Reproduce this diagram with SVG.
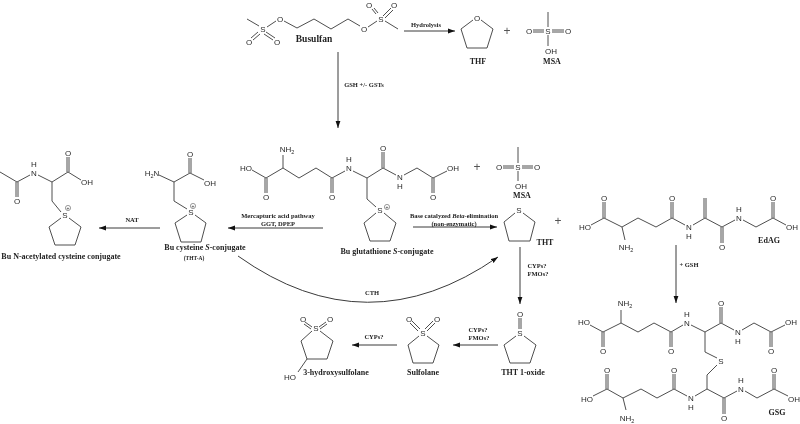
<svg xmlns="http://www.w3.org/2000/svg" width="800" height="424" viewBox="0 0 800 424">
<style>
.b{fill:none;stroke:#3a3a3a;stroke-width:.9}
.c{fill:none;stroke:#3a3a3a;stroke-width:1;marker-end:url(#ah)}
.a{font:8px "Liberation Sans",Arial,sans-serif;fill:#2a2a2a;text-anchor:middle}
.l{font:bold 6.5px "Liberation Serif","Times New Roman",serif;fill:#222;text-anchor:middle}
.s{font-size:5.5px}
.m{font-size:8px}
.k{font-size:9.5px}
.p{font:12px "Liberation Sans",Arial,sans-serif;fill:#555;text-anchor:middle}
.ch{fill:none;stroke:#3a3a3a;stroke-width:.5}
</style>
<defs>
<marker id="ah" markerUnits="userSpaceOnUse" markerWidth="8" markerHeight="6" refX="7" refY="3" orient="auto"><path d="M0,.6L7,3L0,5.4Z" fill="#111"/></marker>
<filter id="soft" filterUnits="userSpaceOnUse" x="0" y="0" width="800" height="424" color-interpolation-filters="sRGB"><feGaussianBlur stdDeviation=".3"/></filter>
</defs>
<rect width="800" height="424" fill="#fff"/>
<g filter="url(#soft)">
<g id="connectors">
<path class="c" d="M404,31H455"/>
<path class="c" d="M338,52V128"/>
<path class="c" d="M160,228H99"/>
<path class="c" d="M323,228H228"/>
<path class="c" d="M413,227H497"/>
<path class="c" d="M520,247V304"/>
<path class="c" d="M238,256Q367,348 498,257"/>
<path class="c" d="M397,345H352"/>
<path class="c" d="M498,345H453"/>
<path class="c" d="M676,245V303"/>
<text class="l" x="426" y="27">Hydrolysis</text>
<text class="l" x="364" y="87">GSH +/- GSTs</text>
<text class="l" x="132" y="222">NAT</text>
<text class="l" x="278" y="218">Mercapturic acid pathway</text>
<text class="l" x="278" y="226">GGT, DPEP</text>
<text class="l" x="454" y="218">Base catalyzed <tspan font-style="italic">Beta</tspan>-elimination</text>
<text class="l" x="454" y="226">(non-enzymatic)</text>
<text class="l" x="537" y="268">CYPs?</text>
<text class="l" x="538" y="276">FMOs?</text>
<text class="l" x="372" y="295">CTH</text>
<text class="l" x="374" y="339">CYPs?</text>
<text class="l" x="478" y="332">CYPs?</text>
<text class="l" x="479" y="340">FMOs?</text>
<text class="l" x="689" y="267">+ GSH</text>
</g>

<g id="busulfan">
<path class="b" d="M247,19L259,26M267,27L276,21M284,21L297,28L314,19L331,29L348,19L360,26M368,27L377,21M385,21L398,29M258,32L251,38M260,34L253,40M266,32L275,38M264,34L273,40M376,14L372,9M378,13L374,8M383,16L391,8M385,18L393,10"/>
<text class="a" x="263" y="32">S</text><text class="a" x="280" y="22">O</text><text class="a" x="364" y="32">O</text><text class="a" x="381" y="22">S</text>
<text class="a" x="369" y="8">O</text><text class="a" x="394" y="8">O</text><text class="a" x="249" y="45">O</text><text class="a" x="277" y="45">O</text>
<text class="l k" x="314" y="42">Busulfan</text>
</g>

<g id="thf">
<path class="b" d="M473,20L461,29L467,48H487L493,29L481,20"/>
<text class="a" x="477" y="21">O</text>
<text class="l m" x="478" y="64">THF</text>
</g>
<text class="p" x="507" y="35">+</text>
<g id="msa-1">
<path class="b" d="M548,12V27M548,35V46M533,30H544M533,32H544M552,30H564M552,32H564"/>
<text class="a" x="548" y="34">S</text><text class="a" x="529" y="34">O</text><text class="a" x="568" y="34">O</text><text class="a" x="551" y="54">OH</text>
<text class="l m" x="552" y="64">MSA</text>
</g>

<g id="acetyl-conjugate">
<path class="b" d="M0,172L17,182L30,175M38,175L52,182L68,172L81,180M52,182V201L61,212M69,218L81,227L75,245H55L49,227L61,218M16,182V197M18,182V197M67,172V157M69,172V157"/>
<text class="a" x="34" y="176">N</text><text class="a" x="34" y="167">H</text><text class="a" x="17" y="204">O</text><text class="a" x="68" y="156">O</text><text class="a" x="87" y="185">OH</text><text class="a" x="65" y="218">S</text>
<circle class="ch" cx="68" cy="208" r="2.6"/><text class="a" style="font-size:5px" x="68" y="210">+</text>
<text class="l m" x="61" y="259">Bu N-acetylated cysteine conjugate</text>
</g>

<g id="cysteine-conjugate">
<path class="b" d="M159,175L174,182L190,173L204,180M174,182V201L187,209M195,215L206,223L201,242H181L175,223L187,215M189,173V158M191,173V158"/>
<text class="a" x="152" y="176">H<tspan class="s" dy="1.5">2</tspan><tspan dy="-1.5">N</tspan></text><text class="a" x="190" y="157">O</text><text class="a" x="210" y="186">OH</text><text class="a" x="191" y="215">S</text>
<circle class="ch" cx="193" cy="206" r="2.6"/><text class="a" style="font-size:5px" x="193" y="208">+</text>
<text class="l m" x="205" y="250">Bu cysteine <tspan font-style="italic">S</tspan>-conjugate</text>
<text class="l" style="font-size:5.5px" x="194" y="260">(THT-A)</text>
</g>

<g id="glutathione-conjugate">
<path class="b" d="M252,170L266,178L283,168L299,178L316,168L332,178L345,171M353,171L367,178L383,168L396,175M404,175L417,168L433,178L447,171M283,168V155M367,178V199L376,207M384,213L396,223L390,241H370L364,223L376,213M265,178V193M267,178V193M331,178V193M333,178V193M382,168V152M384,168V152M432,178V193M434,178V193"/>
<text class="a" x="246" y="171">HO</text><text class="a" x="266" y="200">O</text><text class="a" x="287" y="152">NH<tspan class="s" dy="1.5">2</tspan></text><text class="a" x="332" y="200">O</text><text class="a" x="349" y="171">N</text><text class="a" x="349" y="162">H</text><text class="a" x="383" y="151">O</text><text class="a" x="400" y="180">N</text><text class="a" x="400" y="189">H</text><text class="a" x="433" y="200">O</text><text class="a" x="453" y="171">OH</text><text class="a" x="380" y="213">S</text>
<circle class="ch" cx="387" cy="207" r="2.6"/><text class="a" style="font-size:5px" x="387" y="209">+</text>
<text class="l m" x="387" y="254">Bu glutathione <tspan font-style="italic">S</tspan>-conjugate</text>
</g>

<text class="p" x="477" y="171">+</text>
<g id="msa-2">
<path class="b" d="M518,147V163M518,171V181M503,166H514M503,168H514M522,166H533M522,168H533"/>
<text class="a" x="518" y="170">S</text><text class="a" x="499" y="170">O</text><text class="a" x="537" y="170">O</text><text class="a" x="521" y="189">OH</text>
<text class="l m" x="522" y="198">MSA</text>
</g>

<g id="tht">
<path class="b" d="M515,213L504,222L509,241H530L535,222L523,213"/>
<text class="a" x="519" y="213">S</text>
<text class="l m" x="545" y="245">THT</text>
</g>
<text class="p" x="558" y="225">+</text>

<g id="edag">
<path class="b" d="M591,225L604,218L622,227L638,218L656,227L672,218L685,225M693,225L705,218L722,227L735,220M743,220L756,227L773,218L786,225M622,227L625,240M603,218V202M605,218V202M671,218V202M673,218V202M704,218V198M706,218V198M721,227V243M723,227V243M772,218V202M774,218V202"/>
<text class="a" x="585" y="230">HO</text><text class="a" x="604" y="201">O</text><text class="a" x="626" y="250">NH<tspan class="s" dy="1.5">2</tspan></text><text class="a" x="672" y="201">O</text><text class="a" x="689" y="230">N</text><text class="a" x="689" y="239">H</text><text class="a" x="722" y="250">O</text><text class="a" x="739" y="221">N</text><text class="a" x="739" y="212">H</text><text class="a" x="773" y="201">O</text><text class="a" x="792" y="230">OH</text>
<text class="l m" x="769" y="243">EdAG</text>
</g>

<g id="gsg">
<path class="b" d="M590,325L603,332L621,323L638,332L654,323L671,332L683,325M691,325L705,332L721,323L734,330M742,330L754,323L771,332L785,325M621,323V310M705,332V352L717,358M717,365L707,375V389L724,398L737,391M745,391L757,398L774,389L788,396M707,389L695,396M687,396L674,389L657,398L641,389L623,398L607,389L593,396M623,398L626,410M602,332V347M604,332V347M670,332V347M672,332V347M720,323V307M722,323V307M770,332V347M772,332V347M606,389V374M608,389V374M673,389V374M675,389V374M723,398V414M725,398V414M773,389V374M775,389V374"/>
<text class="a" x="584" y="325">HO</text><text class="a" x="603" y="354">O</text><text class="a" x="625" y="306">NH<tspan class="s" dy="1.5">2</tspan></text><text class="a" x="671" y="354">O</text><text class="a" x="687" y="326">N</text><text class="a" x="687" y="317">H</text><text class="a" x="721" y="306">O</text><text class="a" x="738" y="335">N</text><text class="a" x="738" y="344">H</text><text class="a" x="771" y="354">O</text><text class="a" x="791" y="325">OH</text><text class="a" x="721" y="364">S</text>
<text class="a" x="587" y="402">HO</text><text class="a" x="607" y="373">O</text><text class="a" x="627" y="421">NH<tspan class="s" dy="1.5">2</tspan></text><text class="a" x="674" y="373">O</text><text class="a" x="691" y="401">N</text><text class="a" x="691" y="410">H</text><text class="a" x="724" y="421">O</text><text class="a" x="741" y="392">N</text><text class="a" x="741" y="383">H</text><text class="a" x="774" y="373">O</text><text class="a" x="794" y="402">OH</text>
<text class="l m" x="777" y="415">GSG</text>
</g>

<g id="tht-1-oxide">
<path class="b" d="M519,318V329M521,318V329M516,336L504,345L510,363H530L536,345L524,336"/>
<text class="a" x="520" y="317">O</text><text class="a" x="520" y="336">S</text>
<text class="l m" x="523" y="375">THT 1-oxide</text>
</g>

<g id="sulfolane">
<path class="b" d="M418,331L410,323M420,329L412,321M425,329L433,321M427,331L435,323M419,336L408,345L413,363H433L439,345L427,336"/>
<text class="a" x="423" y="336">S</text><text class="a" x="409" y="322">O</text><text class="a" x="437" y="322">O</text>
<text class="l m" x="423" y="375">Sulfolane</text>
</g>

<g id="hydroxysulfolane">
<path class="b" d="M312,327L305,322M311,329L304,324M320,329L327,324M319,327L326,322M312,331L301,341L307,359H327L333,341L320,331M307,359L298,372"/>
<text class="a" x="316" y="331">S</text><text class="a" x="303" y="322">O</text><text class="a" x="330" y="322">O</text><text class="a" x="290" y="380">HO</text>
<text class="l m" x="336" y="375">3-hydroxysulfolane</text>
</g>
</g>
</svg>
